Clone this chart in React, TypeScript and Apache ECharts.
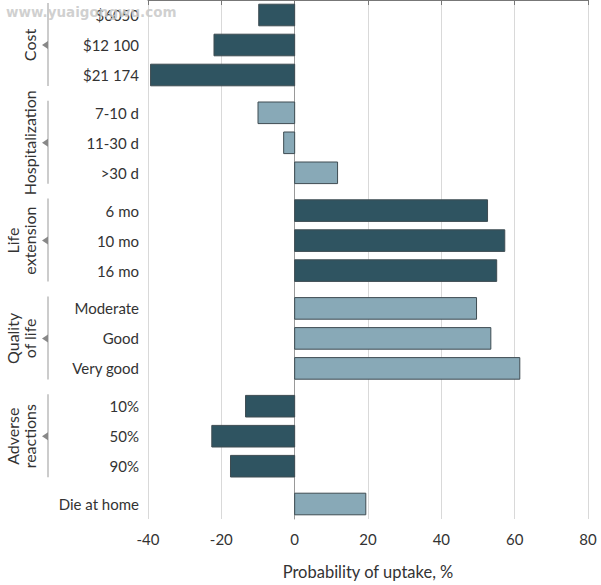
import React, { useEffect, useRef } from "react";
import * as echarts from "echarts";

const categories = ["$6050", "$12 100", "$21 174", "7-10 d", "11-30 d", ">30 d", "6 mo", "10 mo", "16 mo", "Moderate", "Good", "Very good", "10%", "50%", "90%", "Die at home"];
const values = [-9.8, -22.0, -39.3, -10.0, -3.0, 11.7, 52.6, 57.3, 55.1, 49.6, 53.5, 61.4, -13.4, -22.6, -17.5, 19.4];
const groupOf = [0, 0, 0, 1, 1, 1, 2, 2, 2, 3, 3, 3, 4, 4, 4, 5];
const groupNames = ["Cost", "Hospitalization", "Life\nextension", "Quality\nof life", "Adverse\nreactions", ""];
const xTicks = { min: -40, max: 80, interval: 20 };
const axisTitle = "Probability of uptake, %";

const GAP = 0.26;
const DARK = "#2f5461";
const LIGHT = "#88a9b7";
const FONT = "Lato, 'Open Sans', sans-serif";

export default function App() {
  const ref = useRef<HTMLDivElement>(null);
  useEffect(() => {
    document.body.style.margin = "0";
    if (!ref.current) return;
    const chart = echarts.init(ref.current, undefined, { renderer: "svg" });
    const centers = categories.map((_, i) => i + groupOf[i] * GAP + 0.5);
    const total = categories.length + (groupNames.length - 1) * GAP;
    const barData = values.map((v, i) => [v, centers[i], groupOf[i] % 2]);
    const labelData = categories.map((_, i) => [xTicks.min, centers[i], i]);
    const groupData: number[][] = [];
    groupNames.forEach((name, g) => {
      if (!name) return;
      const idx = groupOf.map((gg, i) => (gg === g ? i : -1)).filter((i) => i >= 0);
      const start = centers[idx[0]] - 0.5;
      const end = centers[idx[idx.length - 1]] + 0.5;
      groupData.push([start, end, g]);
    });

    chart.setOption({
      animation: false,
      grid: { left: 148, right: 13, top: 0, bottom: 65 },
      xAxis: {
        type: "value",
        min: xTicks.min,
        max: xTicks.max,
        interval: xTicks.interval,
        name: axisTitle,
        nameLocation: "middle",
        nameGap: 44,
        nameTextStyle: { fontFamily: FONT, fontSize: 16.5, color: "#333" },
        axisLine: { show: true, lineStyle: { color: "#777", width: 1 } },
        axisTick: { show: true, length: 5, lineStyle: { color: "#777" } },
        axisLabel: { fontFamily: FONT, fontSize: 15, color: "#333", margin: 12 },
        splitLine: { show: true, lineStyle: { color: "#d9d9d9", width: 1 } },
      },
      yAxis: {
        type: "value",
        min: 0,
        max: total,
        inverse: true,
        axisLine: { show: true, lineStyle: { color: "#999", width: 1 } },
        axisTick: { show: false },
        axisLabel: { show: false },
        splitLine: { show: false },
      },
      graphic: [
        {
          type: "text",
          left: 6,
          top: 5,
          z: 100,
          style: {
            text: "www.yuaigongwu.com",
            fill: "rgba(200,200,200,0.85)",
            font: "bold 13.5px 'DejaVu Sans', sans-serif",
          },
        },
      ],
      series: [
        {
          type: "custom",
          data: barData,
          encode: { x: 0, y: 1 },
          renderItem: (params: any, api: any) => {
            const v = api.value(0);
            const c = api.value(1);
            const kind = api.value(2);
            const p0 = api.coord([0, c]);
            const p1 = api.coord([v, c]);
            const h = api.size([0, 1])[1] * 0.72;
            return {
              type: "rect",
              shape: {
                x: Math.min(p0[0], p1[0]),
                y: p0[1] - h / 2,
                width: Math.abs(p1[0] - p0[0]),
                height: h,
              },
              style: { fill: kind === 0 ? DARK : LIGHT, stroke: "#3e4c52", lineWidth: 1 },
            };
          },
        },
        {
          type: "custom",
          data: labelData,
          encode: { x: 0, y: 1 },
          clip: false,
          renderItem: (params: any, api: any) => {
            const p = api.coord([api.value(0), api.value(1)]);
            return {
              type: "text",
              x: p[0] - 9,
              y: p[1],
              style: {
                text: categories[api.value(2)],
                textAlign: "right",
                textVerticalAlign: "middle",
                font: `15px ${FONT}`,
                fill: "#333",
              },
            };
          },
        },
        {
          type: "custom",
          data: groupData,
          encode: { y: [0, 1] },
          clip: false,
          renderItem: (params: any, api: any) => {
            const s = api.coord([xTicks.min, api.value(0)]);
            const e = api.coord([xTicks.min, api.value(1)]);
            const g = api.value(2);
            const y0 = s[1] + 3;
            const y1 = e[1] - 4;
            const ym = (s[1] + e[1]) / 2;
            const lx = 48;
            const lines = groupNames[g].split("\n").length;
            const lh = 17;
            return {
              type: "group",
              children: [
                {
                  type: "line",
                  shape: { x1: lx, y1: y0, x2: lx, y2: y1 },
                  style: { stroke: "#aaa", lineWidth: 1.2 },
                },
                {
                  type: "polygon",
                  shape: { points: [[lx, ym - 4], [lx, ym + 4], [lx - 6, ym]] },
                  style: { fill: "#888" },
                },
                {
                  type: "text",
                  x: 29 - ((lines - 1) * lh) / 2,
                  y: ym,
                  rotation: Math.PI / 2,
                  style: {
                    text: groupNames[g],
                    textAlign: "center",
                    textVerticalAlign: "middle",
                    font: `16px ${FONT}`,
                    lineHeight: lh,
                    fill: "#333",
                  },
                },
              ],
            };
          },
        },
      ],
    });
    return () => chart.dispose();
  }, []);
  return <div ref={ref} style={{ width: 601, height: 585 }} />;
}
